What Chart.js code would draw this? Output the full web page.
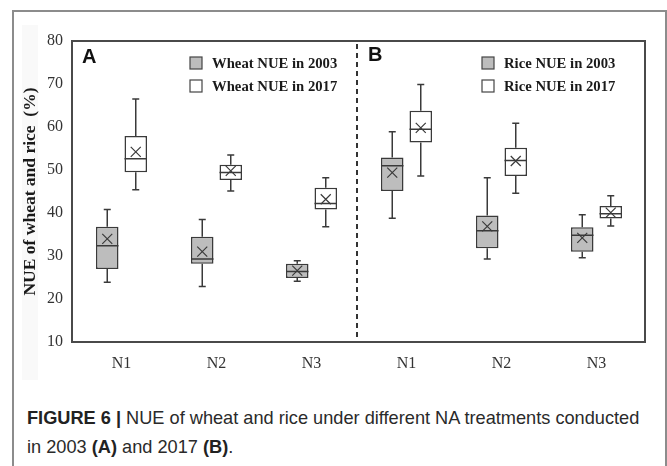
<!DOCTYPE html>
<html>
<head>
<meta charset="utf-8">
<script src="https://cdn.jsdelivr.net/npm/chart.js@4/dist/chart.umd.min.js"></script>
<style>
  html, body { margin: 0; padding: 0; background: #fff; }
  body { width: 667px; height: 466px; position: relative; overflow: hidden; }
  #frame { position: absolute; left: 12px; top: 10px; width: 651px; height: 520px;
           border: 2px solid #8c8c8c; border-bottom: none; }
  #shade { position: absolute; left: 22px; top: 25px; width: 16px; height: 355px; background: #f9f9f9; }
  #chartBox { position: absolute; left: 0; top: 0; width: 667px; height: 400px; }
  #caption { position: absolute; left: 27px; top: 404px; font-family: "Liberation Sans", Arial, sans-serif;
             font-size: 18.2px; line-height: 29px; color: #2a2a2a; white-space: nowrap; }
  #caption b { font-weight: bold; color: #222; }
</style>
</head>
<body>
<div id="frame"></div>
<div id="shade"></div>
<div id="chartBox"><canvas id="nueChart" width="667" height="400"></canvas></div>
<div id="caption"><b>FIGURE 6 |</b> NUE of wheat and rice under different NA treatments conducted<br>in 2003 <b>(A)</b> and 2017 <b>(B)</b>.</div>
<script>
// categories: N1-N3 for wheat (panel A), then N1-N3 for rice (panel B)
const categories = ['N1', 'N2', 'N3', 'N1', 'N2', 'N3'];
const yTicks = [10, 20, 30, 40, 50, 60, 70, 80];

// 2003 (grey boxes)
const min2003 = [23.9, 22.9, 24.1, 38.8, 29.3, 29.6];
const q1_2003 = [27.0, 28.2, 24.9, 45.1, 31.8, 31.0];
const med2003 = [32.4, 29.3, 26.4, 51.0, 35.9, 34.8];
const q3_2003 = [36.8, 34.5, 28.2, 52.9, 39.4, 36.7];
const max2003 = [40.8, 38.5, 28.9, 58.9, 48.2, 39.6];
const mean2003 = [34.0, 31.0, 26.6, 49.4, 36.9, 34.2];

// 2017 (white boxes)
const min2017 = [45.4, 45.1, 36.8, 48.6, 44.6, 37.0];
const q1_2017 = [49.5, 47.7, 40.8, 56.4, 48.6, 38.7];
const med2017 = [52.6, 49.4, 42.2, 59.5, 52.2, 39.8];
const q3_2017 = [57.9, 51.2, 45.9, 63.8, 55.2, 41.6];
const max2017 = [66.5, 53.5, 48.2, 69.9, 60.9, 44.0];
const mean2017 = [54.2, 49.8, 43.2, 59.8, 52.1, 40.1];

const legendA = ['Wheat NUE in 2003', 'Wheat NUE in 2017'];
const legendB = ['Rice NUE in 2003', 'Rice NUE in 2017'];

const stats = [
    { min: min2003, med: med2003, max: max2003, mean: mean2003 },
    { min: min2017, med: med2017, max: max2017, mean: mean2017 }
];

const ink = '#3a3a3a';
const serif = '"Liberation Serif", "Times New Roman", serif';

const boxPlugin = {
    id: 'boxExtras',
    afterDatasetsDraw(chart) {
        const { ctx, chartArea: a, scales: { x, y } } = chart;
        ctx.save();
        ctx.strokeStyle = ink;
        // whiskers, medians, means
        chart.data.datasets.forEach((ds, di) => {
            const meta = chart.getDatasetMeta(di);
            const s = stats[di];
            meta.data.forEach((bar, i) => {
                const cx = bar.x;
                const hw = bar.width / 2;
                const yTop = Math.min(bar.y, bar.base);
                const yBot = Math.max(bar.y, bar.base);
                const yMax = y.getPixelForValue(s.max[i]);
                const yMin = y.getPixelForValue(s.min[i]);
                ctx.lineWidth = 1.5;
                ctx.beginPath();
                ctx.moveTo(cx, yTop); ctx.lineTo(cx, yMax);
                ctx.moveTo(cx - 3.5, yMax); ctx.lineTo(cx + 3.5, yMax);
                ctx.moveTo(cx, yBot); ctx.lineTo(cx, yMin);
                ctx.moveTo(cx - 3.5, yMin); ctx.lineTo(cx + 3.5, yMin);
                const yMed = y.getPixelForValue(s.med[i]);
                ctx.moveTo(cx - hw, yMed); ctx.lineTo(cx + hw, yMed);
                ctx.stroke();
                const yMean = y.getPixelForValue(s.mean[i]);
                ctx.lineWidth = 1.2;
                ctx.beginPath();
                ctx.moveTo(cx - 5, yMean - 5); ctx.lineTo(cx + 5, yMean + 5);
                ctx.moveTo(cx - 5, yMean + 5); ctx.lineTo(cx + 5, yMean - 5);
                ctx.stroke();
            });
        });
        // plot frame
        ctx.strokeStyle = '#4a4a4a';
        ctx.lineWidth = 2;
        ctx.strokeRect(a.left - 2, a.top, a.right - a.left + 3, a.bottom - a.top);
        // dashed panel divider
        const xs = (x.getPixelForValue(2) + x.getPixelForValue(3)) / 2 - 2;
        ctx.strokeStyle = '#333';
        ctx.setLineDash([5, 4]);
        ctx.beginPath();
        ctx.moveTo(xs, a.top + 3); ctx.lineTo(xs, a.bottom - 5);
        ctx.stroke();
        ctx.setLineDash([]);
        // panel letters
        ctx.fillStyle = '#111';
        ctx.font = 'bold 20px "Liberation Sans", Arial, sans-serif';
        ctx.textBaseline = 'middle';
        ctx.textAlign = 'left';
        ctx.fillText('A', a.left + 8, a.top + 16);
        ctx.fillText('B', xs + 11, a.top + 14);
        // legends
        const drawLegend = (labels, sx) => {
            labels.forEach((t, k) => {
                const cy = a.top + 22 + k * 23;
                ctx.fillStyle = k === 0 ? '#bdbdbd' : '#fff';
                ctx.fillRect(sx, cy - 6, 12, 12);
                ctx.strokeStyle = '#444';
                ctx.lineWidth = 1.2;
                ctx.strokeRect(sx, cy - 6, 12, 12);
                ctx.fillStyle = '#1a1a1a';
                ctx.font = 'bold 14.7px ' + serif;
                ctx.fillText(t, sx + 22, cy + 1);
            });
        };
        drawLegend(legendA, 190);
        drawLegend(legendB, 482);
        ctx.restore();
    }
};

new Chart(document.getElementById('nueChart'), {
    type: 'bar',
    data: {
        labels: categories,
        datasets: [
            {
                label: '2003',
                data: q1_2003.map((v, i) => [v, q3_2003[i]]),
                backgroundColor: '#bdbdbd',
                borderColor: ink,
                borderWidth: 1.5,
                borderSkipped: false,
                categoryPercentage: 0.6,
                barPercentage: 0.79
            },
            {
                label: '2017',
                data: q1_2017.map((v, i) => [v, q3_2017[i]]),
                backgroundColor: '#ffffff',
                borderColor: ink,
                borderWidth: 1.5,
                borderSkipped: false,
                categoryPercentage: 0.6,
                barPercentage: 0.79
            }
        ]
    },
    options: {
        responsive: false,
        animation: false,
        layout: { padding: { left: 20, top: 41, right: 23, bottom: 18 } },
        plugins: { legend: { display: false }, tooltip: { enabled: false } },
        scales: {
            x: {
                grid: { display: false, drawTicks: false },
                border: { display: false },
                ticks: { color: '#333', font: { family: serif, size: 16 }, padding: 12, maxRotation: 0 },
                afterFit(scale) { scale.height = 40; }
            },
            y: {
                min: 10,
                max: 80,
                afterBuildTicks(scale) { scale.ticks = yTicks.map(v => ({ value: v })); },
                grid: { display: false, drawTicks: false },
                border: { display: false },
                ticks: { color: '#333', font: { family: serif, size: 16 }, padding: 11 },
                title: {
                    display: true,
                    text: 'NUE of wheat and rice  (%)',
                    color: '#1a1a1a',
                    font: { family: serif, size: 17.5, weight: 'bold' },
                    padding: 0
                },
                afterFit(scale) { scale.width = 54; }
            }
        }
    },
    plugins: [boxPlugin]
});
</script>
</body>
</html>
